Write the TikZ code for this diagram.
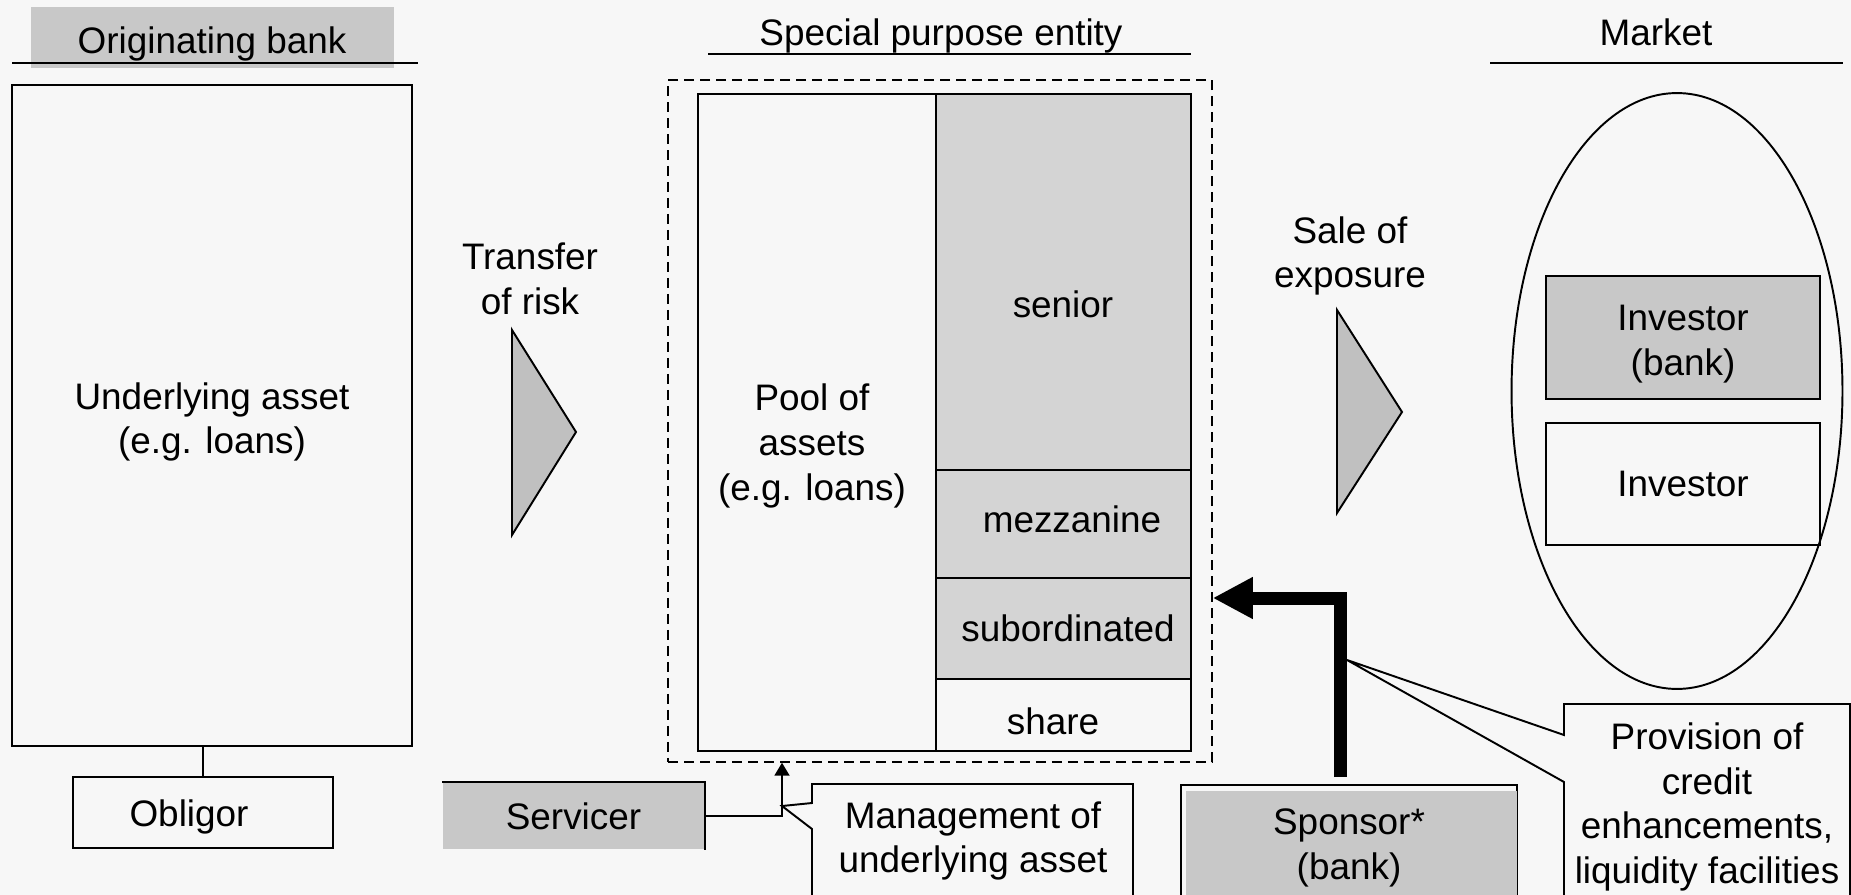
\documentclass[tikz,border=0pt]{standalone}
\usepackage{fontspec}
\setmainfont{Liberation Sans}
\usetikzlibrary{arrows.meta,positioning,shapes.geometric}
\definecolor{bgcol}{HTML}{F7F7F7}
\definecolor{hdgrey}{HTML}{C8C8C8}
\definecolor{trgrey}{HTML}{D4D4D4}
\definecolor{trigrey}{HTML}{C0C0C0}

\begin{document}
\begin{tikzpicture}
  [x=0.02cm, y=-0.02cm, line width=1.1pt,
  every node/.style={font=\fontsize{21}{25.5}\selectfont, align=center, inner sep=0pt},
  box/.style={rectangle, draw=black, inner sep=0pt},
  greybox/.style={rectangle, fill=hdgrey, inner sep=0pt},
  tranche/.style={rectangle, draw=black, fill=trgrey, minimum width=5.1cm},
  rule/.style={line width=1.2pt},
  tip/.style={fill=trigrey, draw=black, line join=miter},
  callout/.style={draw=black, fill=bgcol, line join=miter}]
  \fill[bgcol] (0,0) rectangle (1851,895);
  \useasboundingbox (0,0) rectangle (1851,895);
  \clip (0,0) rectangle (1851,895);
  % originating bank
  \node (orig) [greybox, minimum width=7.26cm, minimum height=1.22cm] at (212.5,37.5) {};
  \node (origtxt) at (212,44) {Originating bank};
  \draw[rule] (12,63) -- (418,63);
  \node (under) [box, minimum width=8cm, minimum height=13.22cm] at (212,415.5) {};
  \node (undertxt) at (212,422) {Underlying asset\\(e.g. loans)};
  \node (oblig) [box, minimum width=5.2cm, minimum height=1.42cm] at (203,812.5) {};
  \node (obligtxt) at (189,817) {Obligor};
  \draw (oblig.north) -- (oblig.north |- under.south);
  \node (transfer) at (530,279) {Transfer\\of risk};
  \filldraw[tip] (512,330) -- (576,432) -- (512,535) -- cycle;
  % special purpose entity
  \node (spetitle) at (941,36) {Special purpose entity};
  \draw[rule] (708,54) -- (1191,54);
  \node (spe) [box, line width=0.9pt, dash pattern=on 0.2cm off 0.12cm, minimum width=10.88cm, minimum height=13.64cm] at (940,421) {};
  \node (pool) [box, minimum width=4.76cm, minimum height=13.14cm] at (817,422.5) {};
  \node (pooltxt) at (812,446) {Pool of\\assets\\(e.g. loans)};
  \node (senior) [tranche, minimum height=7.52cm] at (1063.5,282) {};
  \node (mezz) [tranche, minimum height=2.16cm] at (1063.5,524) {};
  \node (sub) [tranche, minimum height=2.02cm] at (1063.5,628.5) {};
  \node (share) [box, minimum width=5.1cm, minimum height=1.44cm] at (1063.5,715) {};
  \node (seniortxt) at (1063,304) {senior};
  \node (mezztxt) at (1072,519) {mezzanine};
  \node (subtxt) at (1068,628) {subordinated};
  \node (sharetxt) at (1053,721) {share};
  \node (sale) at (1350,256) {Sale of\\exposure};
  \filldraw[tip] (1337,310) -- (1402,412) -- (1337,513) -- cycle;
  % market
  \node (mkttitle) at (1656,32) {Market};
  \draw[rule] (1490,63) -- (1843,63);
  \node (market) [draw=black, ellipse, minimum width=6.62cm, minimum height=11.92cm] at (1677,391) {};
  \node (invbank) [box, fill=hdgrey, minimum width=5.48cm, minimum height=2.46cm] at (1683,337.5) {};
  \node (invbanktxt) at (1683,344) {Investor\\(bank)};
  \node (inv) [box, minimum width=5.48cm, minimum height=2.44cm] at (1683,484) {Investor};
  % servicer
  \node (serv) [greybox, minimum width=5.22cm, minimum height=1.32cm] at (573.5,816) {Servicer};
  \draw (serv.north west) -- (serv.north east) -- (serv.south east);
  \coordinate (mgmtip) at (782,806);
  \draw[-{Triangle[length=0.26cm,width=0.3cm]}] (serv.east) -| (mgmtip |- spe.south);
  \draw[callout] (1133,900) -- (1133,784) -- (812,784) -- (812,803) -- (mgmtip) -- (812,829) -- (812,900);
  \node (mgmt) at (973,841) {Management of\\underlying asset};
  % sponsor
  \node (spons) [box, minimum width=6.72cm, minimum height=2.6cm, anchor=north] at (1349,784) {};
  \fill[hdgrey] ([shift={(6,7)}]spons.north west) rectangle ([shift={(-1,0)}]spons.south east);
  \node (sponstxt) at (1349,848) {Sponsor*\\(bank)};
  \coordinate (sponsturn) at (1340,598);
  \coordinate (provtip) at (1347,660);
  \draw[line width=7.4pt, line join=miter, -{Triangle[length=0.8cm,width=0.78cm]}] ([shift={(-9,-7)}]spons.north) |- (spe.east |- sponsturn);
  \draw[callout] (1850,900) -- (1850,704) -- (1564,704) -- (1564,735) -- (provtip) -- (1564,782) -- (1564,900);
  \node (prov) at (1707,807) {Provision of\\credit\\enhancements,\\liquidity facilities};
\end{tikzpicture}
\end{document}
